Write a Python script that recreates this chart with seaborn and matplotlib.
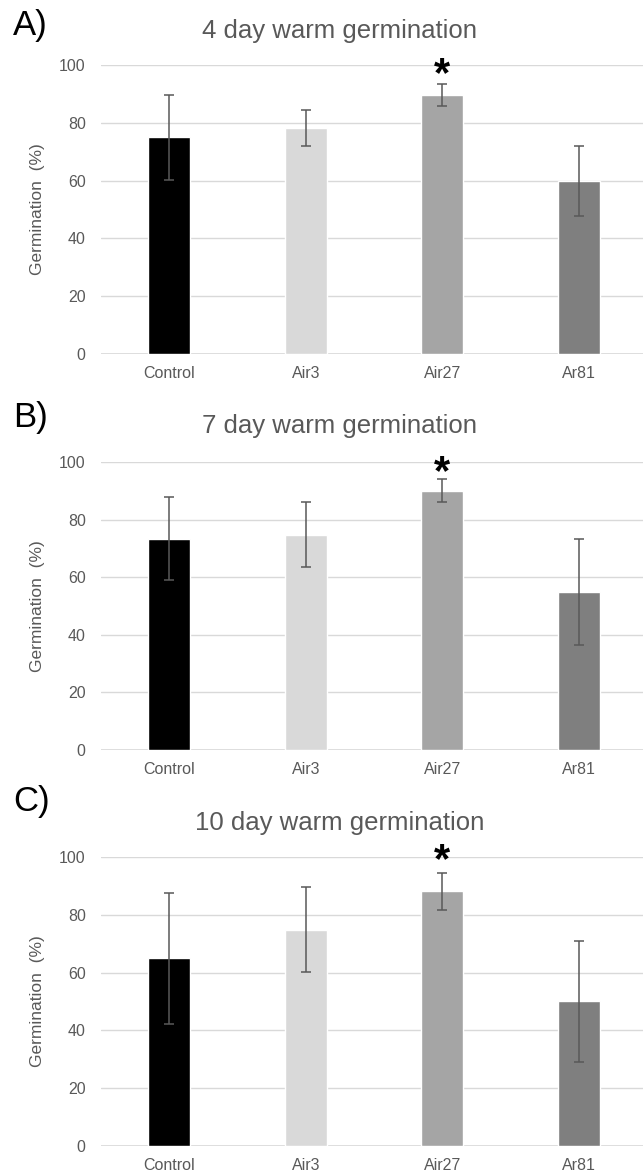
import matplotlib
matplotlib.use("Agg")
import matplotlib.pyplot as plt
import seaborn as sns
import pandas as pd
import numpy as np

sns.set_theme(style="white")
plt.rcParams['font.family'] = ['Liberation Sans', 'DejaVu Sans']

categories = ["Control", "Air3", "Air27", "Ar81"]
colors = ["#000000", "#d9d9d9", "#a5a5a5", "#7f7f7f"]

panel_letters = ["A)", "B)", "C)"]
titles = ["4 day warm germination", "7 day warm germination", "10 day warm germination"]

means_4d = [75.0, 78.2, 89.6, 59.8]
errs_4d = [14.7, 6.4, 3.8, 12.1]
means_7d = [73.4, 74.8, 90.1, 54.9]
errs_7d = [14.5, 11.4, 3.9, 18.4]
means_10d = [64.9, 74.9, 88.1, 50.1]
errs_10d = [22.7, 14.8, 6.5, 21.0]
signif = ["Air27"]

yticks = [0, 20, 40, 60, 80, 100]

W, H = 643, 1173
fig = plt.figure(figsize=(W / 100, H / 100), dpi=100)

# axes placement (pixel coords of plot area)
ax_left, ax_right = 101, 647
panels = [
    dict(top=65, bottom=354, title_y=38, letter_y=25, star_y=96.5),
    dict(top=462, bottom=750, title_y=433, letter_y=418, star_y=96.0),
    dict(top=857, bottom=1146, title_y=830, letter_y=801, star_y=98.5),
]
data = [(means_4d, errs_4d), (means_7d, errs_7d), (means_10d, errs_10d)]

grid_col = "#d9d9d9"
text_col = "#595959"

for i, p in enumerate(panels):
    means, errs = data[i]
    ax = fig.add_axes([ax_left / W, 1 - p["bottom"] / H,
                       (ax_right - ax_left) / W, (p["bottom"] - p["top"]) / H])
    df = pd.DataFrame({"cat": categories, "val": means})
    sns.barplot(data=df, x="cat", y="val", hue="cat", palette=colors,
                width=0.31, legend=False, ax=ax, saturation=1, zorder=3)
    ax.errorbar(np.arange(len(categories)), means, yerr=errs, fmt="none",
                ecolor=text_col, elinewidth=1.1, capsize=3.6, capthick=1.1, zorder=4)
    ax.set_ylim(0, 100)
    ax.set_xlim(-0.5, 3.5)
    ax.set_yticks(yticks)
    ax.yaxis.grid(True, color=grid_col, linewidth=1.0, zorder=0)
    ax.set_axisbelow(True)
    for s in ["top", "right", "left", "bottom"]:
        ax.spines[s].set_visible(False)
    ax.axhline(0, color=grid_col, linewidth=1.2, zorder=2)
    ax.tick_params(axis="both", length=0, labelsize=11.5, colors=text_col)
    ax.tick_params(axis="y", pad=11)
    ax.tick_params(axis="x", pad=9)
    ax.set_xlabel("")
    ax.set_ylabel("Germination  (%)", fontsize=12.5, color=text_col, labelpad=10)
    ax.yaxis.set_label_coords(-(ax_left - 45) / (ax_right - ax_left), 0.5)
    for s in signif:
        xi = categories.index(s)
        ax.text(xi, p["star_y"], "*", ha="center", va="center", fontsize=30,
                fontweight="bold", color="black", clip_on=False, zorder=5)
    fig.text(340 / W, 1 - p["title_y"] / H, titles[i], ha="center", va="baseline",
             fontsize=18.5, color=text_col)
    fig.text(13 / W, 1 - p["letter_y"] / H, panel_letters[i], ha="left", va="center",
             fontsize=25, color="black")

fig.savefig("out.png", dpi=100)
